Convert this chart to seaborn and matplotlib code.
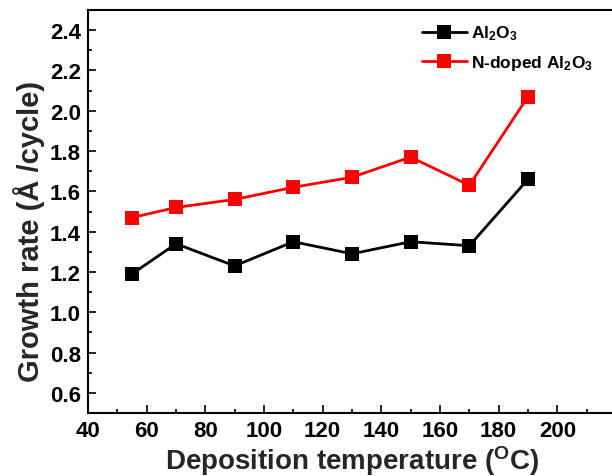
import numpy as np
import pandas as pd
import matplotlib.pyplot as plt
from matplotlib.ticker import MultipleLocator
import seaborn as sns

temperature = [55, 70, 90, 110, 130, 150, 170, 190]
rate_al2o3 = [1.19, 1.34, 1.23, 1.35, 1.29, 1.35, 1.33, 1.66]
rate_n_doped = [1.47, 1.52, 1.56, 1.62, 1.67, 1.77, 1.63, 2.07]
series_names = ['Al$_2$O$_3$', 'N-doped Al$_2$O$_3$']
series_colors = ['black', 'red']

sns.set_style('ticks')
plt.rcParams['font.family'] = ['Liberation Sans', 'DejaVu Sans']
plt.rcParams['font.weight'] = 'bold'
plt.rcParams['mathtext.default'] = 'regular'
plt.rcParams['text.color'] = 'black'
plt.rcParams['xtick.color'] = 'black'
plt.rcParams['ytick.color'] = 'black'

df = pd.DataFrame({
    'temperature': temperature * 2,
    'rate': rate_al2o3 + rate_n_doped,
    'series': [series_names[0]] * len(temperature) + [series_names[1]] * len(temperature),
})

fig = plt.figure(figsize=(6.12, 4.77), dpi=100)
ax = fig.add_axes([88 / 612, 1 - 414 / 477, (616 - 88) / 612, (414 - 11) / 477])

sns.lineplot(
    data=df, x='temperature', y='rate', hue='series', hue_order=series_names,
    palette=series_colors, marker='s', markersize=10, markeredgewidth=0,
    linewidth=2, ax=ax,
)

ax.set_xlim(40, 220)
ax.set_ylim(0.5, 2.5)
ax.xaxis.set_minor_locator(MultipleLocator(10))
ax.yaxis.set_minor_locator(MultipleLocator(0.1))
ax.set_xticks(np.arange(40, 201, 20))
ax.set_yticks(np.round(np.arange(0.6, 2.41, 0.2), 1))
ax.tick_params(which='both', direction='in', top=False, right=False, width=1.2)
ax.tick_params(which='major', length=6, labelsize=16, pad=5)
ax.tick_params(which='minor', length=3)
for label in ax.get_xticklabels() + ax.get_yticklabels():
    label.set_fontweight('bold')
for s in ax.spines.values():
    s.set_linewidth(1.5)
    s.set_color('black')

ax.set_xlabel('Deposition temperature ($^{O}$C)', fontsize=20, fontweight='bold')
ax.xaxis.set_label_coords(0.5, -0.074)
ax.set_ylabel('Growth rate (Å /cycle)', fontsize=21, fontweight='bold')
ax.yaxis.set_label_coords(-0.082, 0.454)

leg = ax.legend(loc='upper right', bbox_to_anchor=(0.985, 1.005), frameon=False,
                fontsize=12.5, handlelength=2.6, handletextpad=0.2, labelspacing=0.6)
for t in leg.get_texts():
    t.set_fontweight('bold')

fig.savefig('out.png', dpi=100)
